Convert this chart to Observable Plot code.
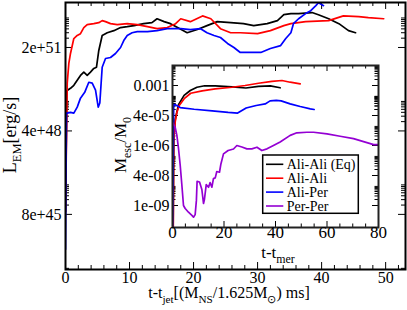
<!DOCTYPE html>
<html><head><meta charset="utf-8">
<script src="https://cdn.jsdelivr.net/npm/d3@7"></script>
<script src="https://cdn.jsdelivr.net/npm/@observablehq/plot@0.6"></script>
<style>
html,body{margin:0;padding:0;background:#fff;}
#wrap{position:relative;width:407px;height:310px;overflow:hidden;background:#fff;}
#wrap svg{position:absolute;max-width:none;}
#wrap svg text{font-family:"Liberation Serif","Times New Roman",Times,serif;}
</style></head><body><div id="wrap"></div>
<script>
// ---- data ----
const seriesNames = ["Ali-Ali (Eq)", "Ali-Ali", "Ali-Per", "Per-Per"];
const seriesColors = ["#000000", "#ff0000", "#0000ff", "#9400d3"];

// main panel: t - t_jet vs L_EM [erg/s]
const lumAliAliEq = [[0,1e46],[0.2,8e49],[0.78,9.6e49],[1.3,1.2e50],[1.83,1.75e50],[2.34,2.5e50],[2.86,3.2e50],[3.39,2.5e50],[3.9,3.2e50],[4.42,4.2e50],[4.84,4.6e50],[5.2,1.6e51],[5.73,4.9e51],[6.52,6.0e51],[7.55,7.0e51],[8.6,8.8e51],[9.64,9.4e51],[10.7,1.02e52],[12.2,1.18e52],[13.5,1.27e52],[14.3,1.7e52],[15.4,1.37e52],[16.4,1.18e52],[17.5,8.8e51],[19,6.0e51],[20.6,7.6e51],[22.1,1.02e52],[23.7,1.37e52],[25.8,1.27e52],[27.8,1.18e52],[29.4,1.02e52],[31.5,1.18e52],[33.1,1.48e52],[34.1,2.3e52],[35.2,2.5e52],[36.4,2.5e52],[38.5,2.7e52],[39.5,2.3e52],[41.1,1.7e52],[42.7,1.18e52],[44.2,7.0e51],[45.3,6.0e51]];
const lumAliAli = [[0,1e46],[0.27,1.4e50],[0.52,6.1e50],[0.78,1.28e51],[1.3,3.9e51],[1.83,4.9e51],[2.34,5.6e51],[2.86,8.8e51],[3.39,1.1e52],[4.42,1.18e52],[5.2,1.27e52],[5.73,1.48e52],[6.25,1.37e52],[7.03,1.18e52],[8.08,1.1e52],[9.64,1.18e52],[11.2,1.1e52],[12.8,9.4e51],[14.3,8.1e51],[15.9,8.8e51],[17.2,1.18e52],[18,1.7e52],[19.5,1.37e52],[21.4,2.1e52],[22.7,1.7e52],[24.2,8.1e51],[25.8,6.0e51],[27.3,6.0e51],[30,5.6e51],[32,7.0e51],[34.1,1.02e52],[35.2,1.18e52],[37.5,1.37e52],[41.1,1.48e52],[43.4,2.1e52],[45.8,2.0e52],[47.3,1.84e52],[49.7,1.7e52]];
const lumAliPer = [[0,6e44],[0.15,1.5e49],[0.27,1.5e49],[0.78,1.6e49],[1.3,1.5e49],[1.83,2.35e49],[2.34,4.6e49],[3.0,7.1e49],[3.64,1.5e50],[4.17,1.4e50],[4.69,8.3e49],[5.11,2.35e49],[5.36,3.2e49],[5.73,4.6e50],[6.25,8.8e50],[7.03,9.5e50],[7.81,1.28e51],[8.6,2e51],[9.1,3.35e51],[9.64,4.9e51],[10.4,6.0e51],[11.2,6.5e51],[12.8,6.5e51],[14.3,7.0e51],[15.9,8.1e51],[18,8.1e51],[19.5,7.6e51],[21.1,8.1e51],[22.1,6.0e51],[23.2,4.9e51],[24.2,4.2e51],[25.3,2.7e51],[26.3,2e51],[27.3,1.38e51],[28.9,1.38e51],[30.5,1.38e51],[32,1.85e51],[33.6,2.3e51],[34.4,3.9e51],[35.2,6.0e51],[35.6,1.18e52],[36.4,1.7e52],[37.5,2.5e52],[38.3,3.1e52],[39.1,4.5e52],[39.5,5.6e52],[39.8,5.2e52],[40.3,4.5e52]];

// inset: t - t_mer vs M_esc/M_0
const mejAliAliEq = [[0.2,1e-11],[0.5,3e-6],[1.05,2e-5],[2.33,1.1e-4],[4.5,3.2e-4],[6.9,5.6e-4],[9.5,8.2e-4],[12.5,9.7e-4],[16.6,9.5e-4],[23.1,8.6e-4],[28.5,7.5e-4],[33.4,9e-4],[38,9.5e-4],[41.8,7.7e-4]];
const mejAliAli = [[0.27,1e-11],[0.47,1.8e-6],[1.05,1.5e-5],[1.7,4.5e-5],[2.6,1e-4],[4.54,2.2e-4],[7.07,4.1e-4],[11.5,5.4e-4],[16.6,6.8e-4],[23.1,8.2e-4],[28.2,1e-3],[33.4,1.3e-3],[38.6,1.6e-3],[42.5,1.78e-3],[45.7,1.46e-3],[49.6,1.2e-3]];
const mejAliPer = [[0,1e-11],[0.47,1.1e-4],[1.05,1.1e-4],[1.6,1e-4],[3.0,7.9e-5],[8.4,6.5e-5],[15.4,5.4e-5],[21.6,4.5e-5],[25.3,4.2e-5],[28.6,7.5e-5],[32.5,1e-4],[36,1.2e-4],[37.9,1.7e-4],[40.3,1.8e-4],[42.2,1.7e-4],[45.7,1.2e-4],[49.6,8.9e-5],[53.5,6.8e-5],[55,6.3e-5]];
const mejPerPer = [[0.08,1.4e-5],[1.05,7.9e-6],[1.7,3.2e-6],[2.33,7.1e-7],[3.0,1e-7],[3.65,1e-8],[4.27,1e-9],[4.93,7.1e-10],[6.2,4.6e-10],[7.53,3.2e-10],[8.16,2.6e-10],[8.8,3.5e-10],[9.28,1.8e-9],[9.55,1.6e-8],[10.5,1.5e-8],[11.4,6.3e-9],[12.04,1.26e-9],[12.4,2e-9],[13.1,1.1e-8],[14.0,8.2e-9],[14.6,1.4e-8],[15.3,8.2e-9],[15.9,2.2e-8],[16.6,2.4e-8],[17.2,5e-8],[18.25,4.6e-8],[18.8,1.2e-7],[19.8,3.8e-7],[21.6,5.6e-7],[23.7,6.7e-7],[25.0,1e-6],[26.95,8.4e-7],[28.9,6.8e-7],[30.8,6.8e-7],[32.8,8.2e-7],[34.7,5.6e-7],[36.7,6.8e-7],[39.2,1e-6],[41.8,1.5e-6],[45.7,3.2e-6],[48.3,4.3e-6],[52.2,4.6e-6],[54.8,4.6e-6],[60.0,3.8e-6],[65.1,2.9e-6],[70.3,2.2e-6],[75.5,1.4e-6],[78.1,1.1e-6],[80,1.1e-6]];

// ticks
const mainXTicks = [0, 10, 20, 30, 40, 50];
const mainXMinor = [2,4,6,8,12,14,16,18,22,24,26,28,32,34,36,38,42,44,46,48,52];
const mainYTicks = [8e45, 4e48, 2e51];
const mainYLabels = ["8e+45", "4e+48", "2e+51"];
const insetXTicks = [0, 20, 40, 60, 80];
const insetXMinor = [5,10,15,25,30,35,45,50,55,65,70,75];
const insetYTicks = [1e-3, 3.16e-5, 1e-6, 3.16e-8, 1e-9];
const insetYLabels = ["0.001", "4e-05", "1e-06", "4e-08", "1e-09"];

// ---- build ----
const FONT = "Liberation Serif, Times New Roman, Times, serif";
const wrap = document.getElementById("wrap");

function logMinor(majors, factor, lo, hi) {
  const out = [];
  const all = [majors[0] / factor, ...majors];
  for (const m of all) for (let k = 2; k <= 9; k++) { const v = m * k; if (v > lo && v < hi) out.push(v); }
  return out;
}
function ticksX(vals, len, fh) {
  return [Plot.tickX(vals, {x: d => d, insetTop: fh - len, stroke: "#000", strokeWidth: 1}),
          Plot.tickX(vals, {x: d => d, insetBottom: fh - len, stroke: "#000", strokeWidth: 1})];
}
function ticksY(vals, len, fw) {
  return [Plot.tickY(vals, {y: d => d, insetRight: fw - len, stroke: "#000", strokeWidth: 1}),
          Plot.tickY(vals, {y: d => d, insetLeft: fw - len, stroke: "#000", strokeWidth: 1})];
}
function label(svg, x, y, rot, parts, size) {
  const t = d3.select(svg).append("text")
    .attr("transform", `translate(${x},${y}) rotate(${rot})`)
    .attr("text-anchor", "middle").attr("font-family", FONT).attr("font-size", size).attr("fill", "#000");
  let shifted = 0;
  for (const p of parts) {
    const target = p.sub ? 0.3 * size : 0;
    const s = t.append("tspan").text(p.t).attr("dy", target - shifted);
    if (p.sub) s.attr("font-size", size * 0.7);
    shifted = target;
  }
}

// main
const mW = 407, mH = 310, mL = 65, mR = 2, mT = 2, mB = 41;
const fW = mW - mL - mR, fH = mH - mT - mB;
const yDom = [1.32e44, 5.7e52];
const mainSeries = [lumAliAliEq, lumAliAli, lumAliPer];
const main = Plot.plot({
  width: mW, height: mH, marginLeft: mL, marginRight: mR, marginTop: mT, marginBottom: mB,
  style: {fontFamily: FONT, background: "white"},
  x: {domain: [0, 53.1], axis: null},
  y: {type: "log", domain: yDom, axis: null},
  marks: [
    ...ticksX(mainXTicks, 7, fH), ...ticksX(mainXMinor, 4, fH),
    ...ticksY(mainYTicks, 7, fW), ...ticksY(logMinor(mainYTicks, 500, yDom[0], yDom[1]), 4, fW),
    ...mainSeries.map((s, i) => Plot.line(s, {x: d => d[0], y: d => d[1], stroke: seriesColors[i], strokeWidth: 1.7, clip: true})),
    Plot.frame({stroke: "#000", strokeWidth: 2}),
    Plot.text(mainXTicks, {x: d => d, frameAnchor: "bottom", dy: 13, text: d => String(d), fontSize: 16, fill: "#000"}),
    Plot.text(mainYTicks, {y: d => d, frameAnchor: "left", dx: -4, textAnchor: "end", text: (d, i) => mainYLabels[i], fontSize: 16, fill: "#000"})
  ]
});
main.style.left = "0px"; main.style.top = "0px";
wrap.appendChild(main);
label(main, 16, 135, -90, [{t: "L"}, {t: "EM", sub: true}, {t: "[erg/s]"}], 18);
label(main, 229, 298, 0, [{t: "t-t"}, {t: "jet", sub: true}, {t: "[(M"}, {t: "NS", sub: true}, {t: "/1.625M"}, {t: "\u2299", sub: true}, {t: ") ms]"}], 16);

// inset
const iX = 100, iY = 55, iW = 300, iH = 212, iL = 72, iR = 22, iT = 10, iB = 40;
const ifW = iW - iL - iR, ifH = iH - iT - iB;
const iyDom = [Math.pow(10, -10.1), 1e-2];
const insetSeries = [mejAliAliEq, mejAliAli, mejAliPer, mejPerPer];
const inset = Plot.plot({
  width: iW, height: iH, marginLeft: iL, marginRight: iR, marginTop: iT, marginBottom: iB,
  style: {fontFamily: FONT, background: "transparent"},
  x: {domain: [0, 80], axis: null},
  y: {type: "log", domain: iyDom, axis: null},
  marks: [
    Plot.frame({fill: "white", stroke: null}),
    ...ticksX(insetXTicks, 6, ifH), ...ticksX(insetXMinor, 3.5, ifH),
    ...ticksY(insetYTicks, 6, ifW), ...ticksY(logMinor(insetYTicks, Math.pow(10, 1.5), iyDom[0], iyDom[1]), 3.5, ifW),
    ...insetSeries.map((s, i) => Plot.line(s, {x: d => d[0], y: d => d[1], stroke: seriesColors[i], strokeWidth: 1.7, clip: true})),
    Plot.frame({stroke: "#222", strokeWidth: 2}),
    Plot.text(insetXTicks, {x: d => d, frameAnchor: "bottom", dy: 10, text: d => String(d), fontSize: 17, fill: "#000"}),
    Plot.text(insetYTicks, {y: d => d, frameAnchor: "left", dx: -3, textAnchor: "end", text: (d, i) => insetYLabels[i], fontSize: 16, fill: "#000"})
  ]
});
inset.style.left = iX + "px"; inset.style.top = iY + "px";
wrap.appendChild(inset);
label(inset, 26, 90, -90, [{t: "M"}, {t: "esc", sub: true}, {t: "/M"}, {t: "0", sub: true}], 17);
label(inset, 178, 203, 0, [{t: "t-t"}, {t: "mer", sub: true}], 17);

// legend inside inset
const lg = d3.select(inset).append("g").attr("font-family", FONT).attr("font-size", 14).attr("text-anchor", "start");
lg.append("rect").attr("x", 162.7).attr("y", 100).attr("width", 95.6).attr("height", 58.3)
  .attr("fill", "white").attr("stroke", "#000").attr("stroke-width", 1.5);
seriesNames.forEach((name, i) => {
  const yy = 109.3 + i * 13.9;
  lg.append("line").attr("x1", 166).attr("x2", 183.3).attr("y1", yy).attr("y2", yy)
    .attr("stroke", seriesColors[i]).attr("stroke-width", 1.6);
  lg.append("text").attr("x", 186.7).attr("y", yy).attr("dy", "0.33em").attr("text-anchor", "start").attr("fill", "#000").text(name);
});
</script></body></html>
